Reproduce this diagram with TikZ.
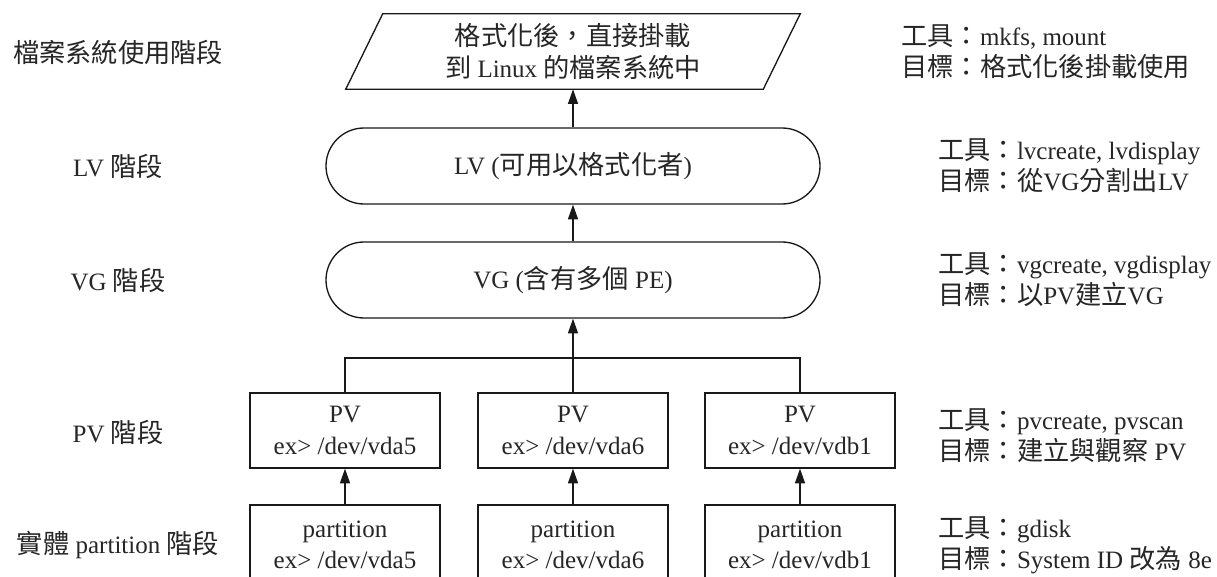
\documentclass[tikz,border=0pt]{standalone}
\usepackage{fontspec}
\setmainfont{Liberation Serif}
\newfontfamily\cjkf[Scale=1.05]{Noto Sans CJK TC}
\usetikzlibrary{arrows.meta}
\newcommand\zh[1]{{\cjkf #1}}
\begin{document}
\begin{tikzpicture}[x=0.75pt,y=-0.75pt,
  every node/.style={font=\fontsize{18.75}{23.5}\selectfont, text=black!85},
  conn/.style={draw=black!90, line width=1pt},
  arr/.style={conn, -{Triangle[length=11pt,width=7.5pt]}},
  box/.style={conn, minimum width=142.5pt, minimum height=56.25pt, align=center, inner sep=0pt},
  stadium/.style={conn, rounded corners=28.5pt, minimum width=370.5pt, minimum height=57pt, inner sep=0pt},
  stage/.style={align=center},
  note/.style={anchor=west, align=left, inner sep=0pt}]
\useasboundingbox (0,0) rectangle (1217,577);
\clip (0,0) rectangle (1217,577);
\fill[white] (0,0) rectangle (1217,577);

% parallelogram
\node[minimum width=312.75pt, minimum height=56.25pt, inner sep=0pt, align=center] (fs) at (573,51.5)
  {\raisebox{-3pt}{\zh{格式化後，直接掛載}}\\ \raisebox{-3pt}{\zh{到} Linux \zh{的檔案系統中}}};
\draw[conn] ([xshift=-13.875pt]fs.south west) -- ([xshift=13.875pt]fs.north west)
  -- ([xshift=13.875pt]fs.north east) -- ([xshift=-13.875pt]fs.south east) -- cycle;

\node[stadium] (lv) at (573,166) {LV (\zh{可用以格式化者})};
\node[stadium] (vg) at (573,280) {VG (\zh{含有多個} PE)};

\node[box] (pv1) at (345,430.5) {PV\\ ex> /dev/vda5};
\node[box] (pv2) at (573,430.5) {PV\\ ex> /dev/vda6};
\node[box] (pv3) at (800,430.5) {PV\\ ex> /dev/vdb1};

\node[box, minimum height=60pt] (pt1) at (345,545) {partition\\ ex> /dev/vda5};
\node[box, minimum height=60pt] (pt2) at (573,545) {partition\\ ex> /dev/vda6};
\node[box, minimum height=60pt] (pt3) at (800,545) {partition\\ ex> /dev/vdb1};

\coordinate (j) at (573,358);

% connectors
\draw[arr] (lv.north) -- (fs.south);
\draw[arr] (vg.north) -- (lv.south);
\draw[conn] (pv1.north) |- (j) -| (pv3.north);
\draw[arr] (pv2.north) -- (vg.south);
\draw[arr] (pt1.north) -- (pv1.south);
\draw[arr] (pt2.north) -- (pv2.south);
\draw[arr] (pt3.north) -- (pv3.south);

% stage labels
\node[stage] (s1) at (118,53) {\zh{檔案系統使用階段}};
\node[stage] (s2) at (118,166) {LV \zh{階段}};
\node[stage] (s3) at (118,280) {VG \zh{階段}};
\node[stage] (s4) at (118,432) {PV \zh{階段}};
\node[stage] (s5) at (118,545) {\zh{實體} partition \zh{階段}};

% notes
\node[note] (n1) at (901,52) {\zh{工具：}mkfs, mount\\ \zh{目標：格式化後掛載使用}};
\node[note] (n2) at (938,166) {\zh{工具：}lvcreate, lvdisplay\\ \zh{目標：從}VG\zh{分割出}LV};
\node[note] (n3) at (938,280) {\zh{工具：}vgcreate, vgdisplay\\ \zh{目標：以}PV\zh{建立}VG};
\node[note] (n4) at (938,436) {\zh{工具：}pvcreate, pvscan\\ \zh{目標：建立與觀察} PV};
\node[note] (n5) at (938,545) {\zh{工具：}gdisk\\ \zh{目標：}System ID \zh{改為} 8e};
\end{tikzpicture}
\end{document}
